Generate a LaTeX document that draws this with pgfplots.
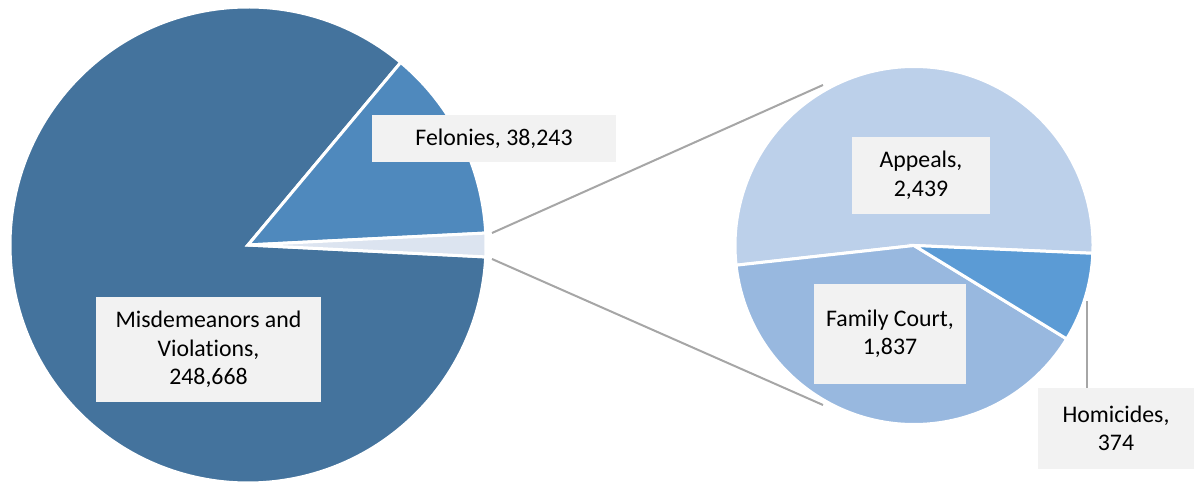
\documentclass[border=0pt]{standalone}
\usepackage{pgfplots}
\pgfplotsset{compat=1.18}
\usepackage{fontspec}
\setmainfont{Carlito}[Ligatures=NoCommon]
\definecolor{cMis}{HTML}{44739D}
\definecolor{cFel}{HTML}{4F89BD}
\definecolor{cOth}{HTML}{DCE4F0}
\definecolor{cApp}{HTML}{BCD0EA}
\definecolor{cFam}{HTML}{98B8DF}
\definecolor{cHom}{HTML}{5B9BD5}
\definecolor{cBox}{HTML}{F2F2F2}
\definecolor{cLine}{HTML}{A6A6A6}
% data
\def\vMis{248668}
\def\vFel{38243}
\def\vApp{2439}
\def\vFam{1837}
\def\vHom{374}
\edef\vOth{\fpeval{\vApp+\vFam+\vHom}}
\edef\tot{\fpeval{\vMis+\vFel+\vOth}}
\edef\aOth{\fpeval{360*\vOth/\tot}}
\edef\aFel{\fpeval{360*\vFel/\tot}}
\edef\sOth{\fpeval{-\aOth/2}}
\edef\eOth{\fpeval{\aOth/2}}
\edef\eFel{\fpeval{\aOth/2+\aFel}}
\edef\eMis{\fpeval{360-\aOth/2}}
\edef\sApp{-2.5}
\edef\eApp{\fpeval{\sApp+360*\vApp/\vOth}}
\edef\eFam{\fpeval{\eApp+360*\vFam/\vOth}}
\edef\eHom{\fpeval{\eFam+360*\vHom/\vOth}}
\begin{document}
\begin{tikzpicture}
\begin{axis}[scale only axis, width=598.5pt, height=243pt,
  xmin=0, xmax=1197, ymin=0, ymax=486, hide axis, clip=false]
\coordinate (BL) at (axis cs:0,0);
\coordinate (TR) at (axis cs:1197,486);
% connector lines
\draw[cLine, line width=1pt] (axis cs:492,253) -- (axis cs:823,401);
\draw[cLine, line width=1pt] (axis cs:492,227) -- (axis cs:823,81);
% left pie
\fill[cMis, draw=white, line width=1.5pt] (axis cs:248,241) -- ++(\eFel:119pt) arc[start angle=\eFel, end angle=\eMis, radius=119pt] -- cycle;
\fill[cFel, draw=white, line width=1.5pt] (axis cs:248,241) -- ++(\eOth:119pt) arc[start angle=\eOth, end angle=\eFel, radius=119pt] -- cycle;
\fill[cOth, draw=white, line width=1.5pt] (axis cs:248,241) -- ++(\sOth:119pt) arc[start angle=\sOth, end angle=\eOth, radius=119pt] -- cycle;
% right pie
\fill[cApp, draw=white, line width=1.5pt] (axis cs:914,240.5) -- ++(\sApp:89.5pt) arc[start angle=\sApp, end angle=\eApp, radius=89.5pt] -- cycle;
\fill[cFam, draw=white, line width=1.5pt] (axis cs:914,240.5) -- ++(\eApp:89.5pt) arc[start angle=\eApp, end angle=\eFam, radius=89.5pt] -- cycle;
\fill[cHom, draw=white, line width=1.5pt] (axis cs:914,240.5) -- ++(\eFam:89.5pt) arc[start angle=\eFam, end angle=\eHom, radius=89.5pt] -- cycle;
% leader line
\draw[cLine, line width=1pt] (axis cs:1087,185) -- (axis cs:1087,98);
% labels
\tikzset{lbl/.style={fill=cBox, inner sep=0pt, align=center, font=\fontsize{11.9}{14.25}\selectfont}}
\node[lbl, minimum width=122pt, minimum height=23.5pt] at (axis cs:494,347.5) {Felonies, 38,243};
\node[lbl, minimum width=69pt, minimum height=38.5pt] at (axis cs:921,310.5) {Appeals,\\2,439};
\node[lbl, minimum width=76pt, minimum height=50pt] at (axis cs:890,152) {Family Court,\\1,837};
\node[lbl, minimum width=78pt, minimum height=40.5pt] at (axis cs:1116,57.5) {Homicides,\\374};
\node[lbl, minimum width=112.5pt, minimum height=52.5pt] at (axis cs:208.5,136.5) {Misdemeanors and\\Violations,\\248,668};
\end{axis}
\pgfresetboundingbox
\path[use as bounding box] (BL) rectangle (TR);
\end{tikzpicture}
\end{document}
